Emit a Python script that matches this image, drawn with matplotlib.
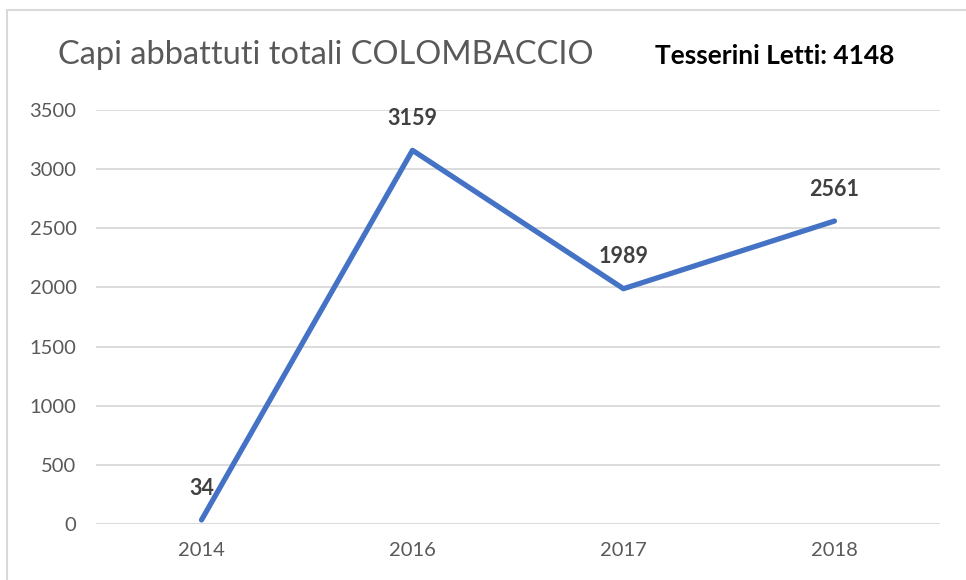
import matplotlib
matplotlib.use("Agg")
import matplotlib.pyplot as plt
from matplotlib.patches import Rectangle

years = ["2014", "2016", "2017", "2018"]
values = [34, 3159, 1989, 2561]
title = "Capi abbattuti totali COLOMBACCIO"
note = "Tesserini Letti: 4148"
yticks = [0, 500, 1000, 1500, 2000, 2500, 3000, 3500]

plt.rcParams['font.family'] = ['Lato', 'DejaVu Sans']

fig = plt.figure(figsize=(9.66, 5.8), dpi=100)
fig.patch.set_facecolor("white")
fig.patches.append(Rectangle((0.007, -0.05), 1.2, 1.032, transform=fig.transFigure,
                             fill=False, edgecolor="#d9d9d9", linewidth=1.5))

ax = fig.add_axes([0.0994, 0.0966, 0.8736, 0.7138])
x = list(range(len(years)))
ax.plot(x, values, color="#4472C4", linewidth=3.8, solid_capstyle="round", zorder=3)
for xi, v in zip(x, values):
    ax.annotate(str(v), (xi, v), xytext=(0, 23), textcoords="offset points",
                ha="center", va="center", fontsize=15.5, fontweight="bold", color="#404040")

ax.set_xlim(-0.5, len(years) - 0.5)
ax.set_ylim(0, 3500)
ax.set_yticks(yticks)
ax.set_xticks(x)
ax.set_xticklabels(years)
ax.grid(axis="y", color="#d9d9d9", linewidth=1.3)
ax.set_axisbelow(True)
for s in ax.spines.values():
    s.set_visible(False)
ax.tick_params(axis="both", length=0, labelsize=14.5, labelcolor="#595959")
ax.tick_params(axis="x", pad=13)
ax.tick_params(axis="y", pad=14)

fig.text(0.06, 0.905, title, fontsize=23.5, color="#595959", ha="left", va="center")
fig.text(0.678, 0.903, note, fontsize=19, fontweight="bold", color="black", ha="left", va="center")

fig.savefig("out.png", dpi=100)
